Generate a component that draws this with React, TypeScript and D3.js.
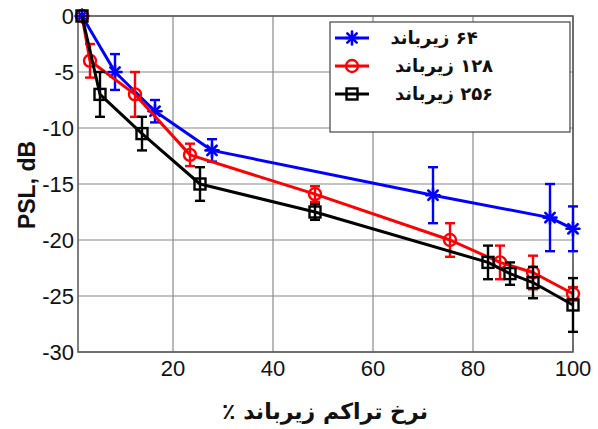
import React from "react";
import * as d3 from "d3";

const W = 598;
const H = 429;

const xTicks = [20, 40, 60, 80, 100];
const yTicks = [0, -5, -10, -15, -20, -25, -30];

const blueX = [1.8, 8.4, 16.4, 27.8, 72, 95.4, 100];
const blueY = [0, -5, -8.5, -12, -16, -18, -19];
const blueE = [0, 1.6, 1, 1, 2.5, 3, 2];

const redX = [1.8, 3.4, 12.4, 23.4, 48.4, 75.4, 85.4, 92, 100];
const redY = [0, -4, -7, -12.4, -15.9, -20, -22, -22.9, -24.8];
const redE = [0, 1.5, 2, 1, 0.7, 1.5, 1.5, 1.5, 0.6];

const blackX = [1.8, 5.4, 13.8, 25.4, 48.4, 83, 87.4, 92, 100];
const blackY = [0, -7, -10.5, -15, -17.5, -22, -23, -23.8, -25.8];
const blackE = [0, 2, 1.5, 1.5, 0.7, 1.5, 1, 1.4, 2.4];

const legendLabels = ["۶۴ زیرباند", "۱۲۸ زیرباند", "۲۵۶ زیرباند"];
const xLabel = "نرخ تراکم زیرباند ٪";
const yLabel = "PSL, dB";

const RLE = "\u202B";
const PDF = "\u202C";

type Kind = "star" | "circle" | "square";

function Marker({ kind, x, y, color }: { kind: Kind; x: number; y: number; color: string }) {
  if (kind === "star") {
    const s = 6.5;
    const d = s * 0.72;
    return (
      <g stroke={color} strokeWidth={2.6} strokeLinecap="round">
        <line x1={x - s} y1={y} x2={x + s} y2={y} />
        <line x1={x} y1={y - s} x2={x} y2={y + s} />
        <line x1={x - d} y1={y - d} x2={x + d} y2={y + d} />
        <line x1={x - d} y1={y + d} x2={x + d} y2={y - d} />
      </g>
    );
  }
  if (kind === "circle") {
    return <circle cx={x} cy={y} r={6} fill="none" stroke={color} strokeWidth={2.4} />;
  }
  return <rect x={x - 5.5} y={y - 5.5} width={11} height={11} fill="none" stroke={color} strokeWidth={2.4} />;
}

export default function App() {
  const left = 78;
  const right = 573;
  const top = 16;
  const bottom = 352;
  const xs = d3.scaleLinear().domain([1, 100]).range([left, right]);
  const ys = d3.scaleLinear().domain([-30, 0]).range([bottom, top]);

  const series = [
    { X: blueX, Y: blueY, E: blueE, color: "#0000ff", kind: "star" as Kind },
    { X: redX, Y: redY, E: redE, color: "#ff0000", kind: "circle" as Kind },
    { X: blackX, Y: blackY, E: blackE, color: "#000000", kind: "square" as Kind },
  ];
  const line = d3.line<number>();

  const drawOrder = [0, 1, 2];

  return (
    <svg width={W} height={H} style={{ position: "absolute", left: 0, top: 0, background: "#fff" }}>
      <rect x={0} y={0} width={W} height={H} fill="#fff" />
      {/* grid */}
      {xTicks.map((t) => (
        <line key={"gx" + t} x1={xs(t)} x2={xs(t)} y1={top} y2={bottom} stroke="#8a8a8a" strokeWidth={1.2} />
      ))}
      {yTicks.map((t) => (
        <line key={"gy" + t} x1={left} x2={right} y1={ys(t)} y2={ys(t)} stroke="#8a8a8a" strokeWidth={1.2} />
      ))}
      {/* frame */}
      <rect x={left} y={top} width={right - left} height={bottom - top} fill="none" stroke="#555" strokeWidth={1.5} />
      {/* tick labels */}
      {xTicks.map((t) => (
        <text key={"tx" + t} x={xs(t)} y={bottom + 24} textAnchor="middle" fontFamily="Liberation Sans, Arial, sans-serif" fontSize={22} fill="#111">
          {t}
        </text>
      ))}
      {yTicks.map((t) => (
        <text key={"ty" + t} x={left - 4} y={ys(t) + 8} textAnchor="end" fontFamily="Liberation Sans, Arial, sans-serif" fontSize={22} fill="#111">
          {t}
        </text>
      ))}
      {/* series */}
      {drawOrder.map((i) => {
        const s = series[i];
        const pts = s.X.map((x, k) => [xs(x), ys(s.Y[k])] as [number, number]);
        return (
          <g key={"s" + i}>
            <path d={line(pts) || ""} fill="none" stroke={s.color} strokeWidth={3} strokeLinejoin="round" />
            {s.X.map((x, k) =>
              s.E[k] > 0 ? (
                <g key={"e" + k} stroke={s.color} strokeWidth={2.4}>
                  <line x1={xs(x)} x2={xs(x)} y1={ys(s.Y[k] + s.E[k])} y2={ys(s.Y[k] - s.E[k])} />
                  <line x1={xs(x) - 5} x2={xs(x) + 5} y1={ys(s.Y[k] + s.E[k])} y2={ys(s.Y[k] + s.E[k])} />
                  <line x1={xs(x) - 5} x2={xs(x) + 5} y1={ys(s.Y[k] - s.E[k])} y2={ys(s.Y[k] - s.E[k])} />
                </g>
              ) : null
            )}
            {s.X.map((x, k) => (
              <Marker key={"m" + k} kind={s.kind} x={xs(x)} y={ys(s.Y[k])} color={s.color} />
            ))}
          </g>
        );
      })}
      {/* legend */}
      <rect x={330} y={22} width={240} height={110} fill="#fff" stroke="#444" strokeWidth={1.2} />
      {series.map((s, i) => {
        const yy = 38 + i * 28;
        return (
          <g key={"lg" + i}>
            <line x1={335} x2={369} y1={yy} y2={yy} stroke={s.color} strokeWidth={3} />
            <Marker kind={s.kind} x={352} y={yy} color={s.color} />
            <text x={i === 0 ? 434 : 444} y={yy + 6} textAnchor="middle" fontFamily="DejaVu Sans, sans-serif" fontWeight="bold" fontSize={18} fill="#111">
              {RLE + legendLabels[i] + PDF}
            </text>
          </g>
        );
      })}
      {/* axis labels */}
      <text x={325} y={419} textAnchor="middle" fontFamily="DejaVu Sans, sans-serif" fontWeight="bold" fontSize={22} fill="#111">
        {RLE + xLabel + PDF}
      </text>
      <text transform={`translate(35,185) rotate(-90)`} textAnchor="middle" fontFamily="Liberation Sans, Arial, sans-serif" fontWeight="bold" fontSize={23} fill="#111">
        {yLabel}
      </text>
    </svg>
  );
}
